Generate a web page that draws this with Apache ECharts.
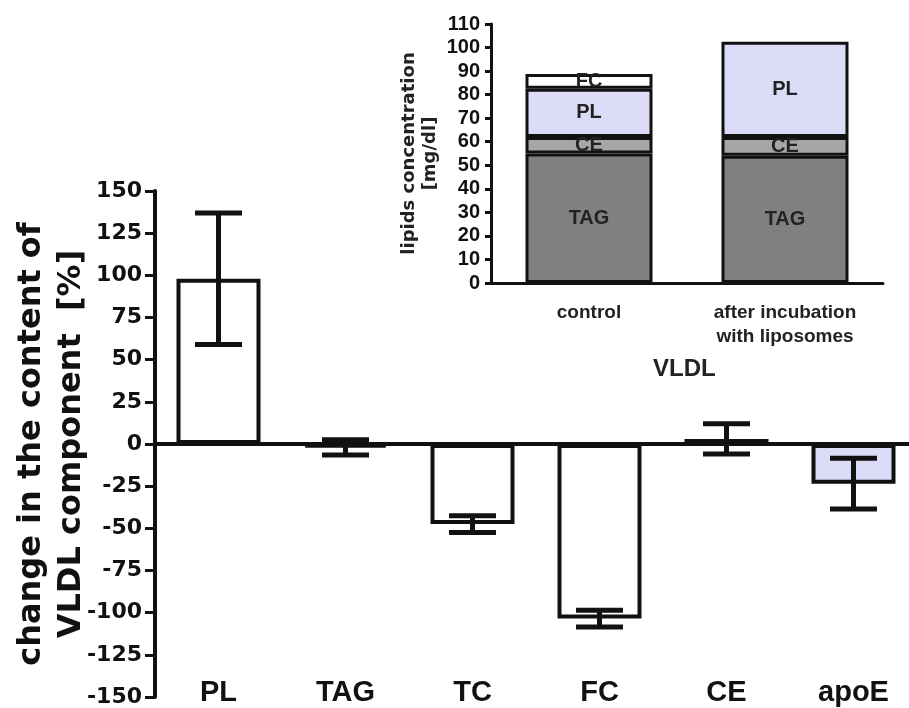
<!DOCTYPE html>
<html>
<head>
<meta charset="utf-8">
<script src="https://cdn.jsdelivr.net/npm/echarts@6/dist/echarts.min.js"></script>
<style>html,body{margin:0;padding:0;background:#fff;}#chart{width:909px;height:708px;}</style>
</head>
<body>
<div id="chart"></div>
<script>
// Main chart data
const categories = ['PL', 'TAG', 'TC', 'FC', 'CE', 'apoE'];
const changeMean = [98, -2, -47.5, -103.5, 3, -23.5];
const changeErr = [39, 4.5, 5, 5, 9, 15];
const mainTicks = { min: -150, max: 150, interval: 25 };

// Inset data (lipids concentration, mg/dl)
const insetCategories = ['control', 'after incubation\nwith liposomes'];
const tagValues = [55, 54];
const ceValues = [7, 8];
const plValues = [20.5, 40.5];
const fcValues = [6.3, '-'];
const insetTicks = { min: 0, max: 110, interval: 10 };

const INK = '#111';
const LAVENDER = '#dcdcf8';

const errorData = changeMean.map((m, i) => [i, m - changeErr[i], m + changeErr[i]]);

function stackSeries(name, values, color) {
  return {
    type: 'bar', name: name, stack: 'lipids', xAxisIndex: 2, yAxisIndex: 1,
    data: values, barWidth: 127,
    itemStyle: { color: color, borderColor: INK, borderWidth: 3 },
    label: {
      show: true, position: 'inside', formatter: name,
      fontFamily: 'Liberation Sans, Arial, sans-serif', fontWeight: 'bold', fontSize: 20, color: '#222'
    },
    z: 3
  };
}

const chart = echarts.init(document.getElementById('chart'), null, { renderer: 'canvas' });
chart.setOption({
  animation: false,
  backgroundColor: '#fff',
  grid: [
    { left: 155, right: -8, top: 191, bottom: 11, containLabel: false, outerBoundsMode: 'none' },
    { left: 491, right: 26, top: 24, bottom: 425, containLabel: false, outerBoundsMode: 'none' }
  ],
  xAxis: [
    {
      type: 'category', gridIndex: 0, data: categories, position: 'bottom',
      axisLine: { show: false, onZero: false }, axisTick: { show: false },
      axisLabel: {
        margin: -19, fontFamily: 'Liberation Sans, Arial, sans-serif', fontWeight: 'bold',
        fontSize: 29, color: INK
      }
    },
    {
      type: 'category', gridIndex: 0, data: categories, position: 'top',
      axisLine: { show: true, onZero: true, lineStyle: { color: INK, width: 4 } },
      axisTick: { show: false }, axisLabel: { show: false }
    },
    {
      type: 'category', gridIndex: 1, data: insetCategories,
      axisLine: { lineStyle: { color: INK, width: 3 } }, axisTick: { show: false },
      axisLabel: {
        margin: 18, fontFamily: 'Liberation Sans, Arial, sans-serif', fontWeight: 'bold',
        fontSize: 19, lineHeight: 24, color: '#222'
      }
    }
  ],
  yAxis: [
    {
      type: 'value', gridIndex: 0, min: mainTicks.min, max: mainTicks.max, interval: mainTicks.interval,
      splitLine: { show: false },
      axisLine: { show: true, lineStyle: { color: INK, width: 4 } },
      axisTick: { show: true, length: 10, lineStyle: { color: INK, width: 3 } },
      axisLabel: { margin: 13, fontFamily: 'DejaVu Sans', fontWeight: 'bold', fontSize: 22, color: INK },
      name: 'change in the content of\nVLDL component  [%]',
      nameLocation: 'middle', nameRotate: 90, nameGap: 63, nameMoveOverlap: false,
      nameTextStyle: { fontFamily: 'DejaVu Sans', fontWeight: 'bold', fontSize: 32, lineHeight: 40, color: INK }
    },
    {
      type: 'value', gridIndex: 1, min: insetTicks.min, max: insetTicks.max, interval: insetTicks.interval,
      splitLine: { show: false },
      axisLine: { show: true, lineStyle: { color: INK, width: 3 } },
      axisTick: { show: true, length: 6, lineStyle: { color: INK, width: 3 } },
      axisLabel: { margin: 11, fontFamily: 'Liberation Sans, Arial, sans-serif', fontWeight: 'bold', fontSize: 20, color: INK },
      name: 'lipids concentration\n[mg/dl]',
      nameLocation: 'middle', nameRotate: 90, nameGap: 50,
      nameTextStyle: { fontFamily: 'DejaVu Sans', fontWeight: 'bold', fontSize: 18, lineHeight: 21, color: '#222' }
    }
  ],
  graphic: [
    {
      type: 'text', left: 653, top: 357,
      style: { text: 'VLDL', fontFamily: 'Liberation Sans, Arial, sans-serif', fontWeight: 'bold', fontSize: 24, fill: '#222' }
    }
  ],
  series: [
    {
      type: 'bar', xAxisIndex: 0, yAxisIndex: 0, data: changeMean, barWidth: 84,
      itemStyle: {
        color: (p) => p.name === 'apoE' ? LAVENDER : '#ffffff',
        borderColor: INK, borderWidth: 4
      },
      z: 2
    },
    {
      type: 'custom', xAxisIndex: 0, yAxisIndex: 0, data: errorData, z: 4,
      renderItem: function (params, api) {
        const idx = api.value(0);
        const lo = api.coord([idx, api.value(1)]);
        const hi = api.coord([idx, api.value(2)]);
        const hw = 23.5;
        const style = { stroke: INK, lineWidth: 5 };
        return {
          type: 'group',
          children: [
            { type: 'line', shape: { x1: lo[0], y1: lo[1], x2: hi[0], y2: hi[1] }, style: style },
            { type: 'line', shape: { x1: lo[0] - hw, y1: lo[1], x2: lo[0] + hw, y2: lo[1] }, style: style },
            { type: 'line', shape: { x1: hi[0] - hw, y1: hi[1], x2: hi[0] + hw, y2: hi[1] }, style: style }
          ]
        };
      }
    },
    stackSeries('TAG', tagValues, '#808080'),
    stackSeries('CE', ceValues, '#a6a6a6'),
    stackSeries('PL', plValues, LAVENDER),
    stackSeries('FC', fcValues, '#ffffff')
  ]
});
</script>
</body>
</html>
